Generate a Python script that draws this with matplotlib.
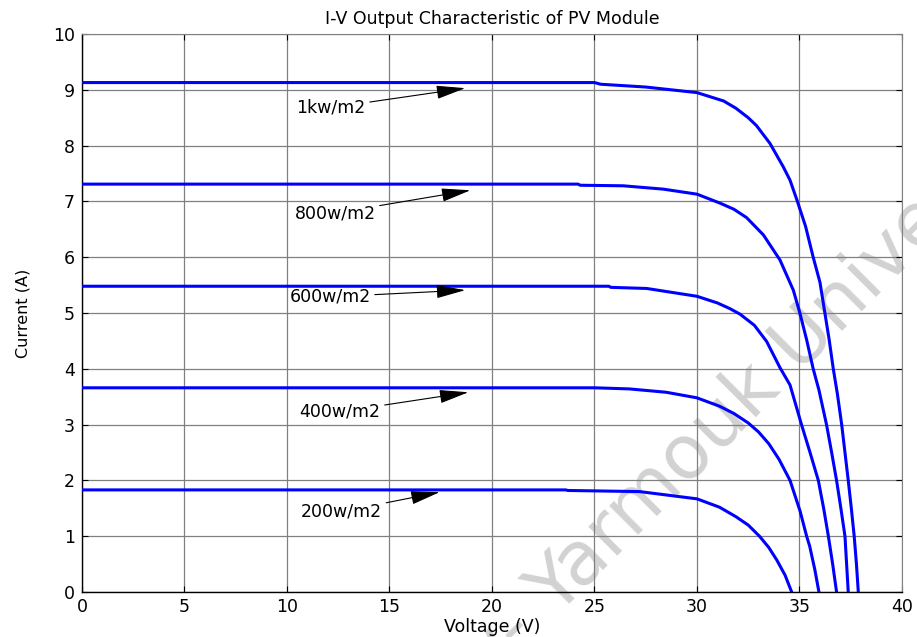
import matplotlib
matplotlib.use('Agg')
import matplotlib.pyplot as plt

# Measured I-V points for each irradiance level (voltage in V, current in A)
v_1000 = [0, 25.0, 25.3, 27.5, 30.0, 31.3, 31.9, 32.5, 32.9, 33.56, 34.21, 34.54, 34.9,
          35.3, 35.67, 36.0, 36.24, 36.45, 36.65, 36.85, 37.06, 37.22, 37.38, 37.53,
          37.67, 37.78, 37.87]
i_1000 = [9.13, 9.13, 9.10, 9.05, 8.95, 8.80, 8.67, 8.50, 8.36, 8.04, 7.62, 7.38, 7.00,
          6.55, 6.00, 5.55, 5.00, 4.52, 4.00, 3.55, 3.00, 2.50, 2.00, 1.50,
          1.00, 0.50, 0.00]

v_800 = [0, 24.2, 24.3, 26.4, 28.36, 30.0, 31.12, 31.8, 32.42, 33.24, 34.05, 34.7, 35.02,
         35.35, 35.67, 35.95, 36.32, 36.57, 36.81, 37.02, 37.22, 37.38]
i_800 = [7.31, 7.31, 7.29, 7.28, 7.22, 7.13, 6.97, 6.86, 6.71, 6.40, 5.95, 5.41, 5.00,
         4.52, 4.00, 3.62, 3.00, 2.50, 2.00, 1.50, 1.00, 0.00]

v_600 = [0, 25.7, 25.8, 27.55, 30.0, 31.0, 31.6, 32.1, 32.8, 33.4, 34.05, 34.54, 35.1,
         35.5, 35.92, 36.18, 36.41, 36.62, 36.81]
i_600 = [5.48, 5.48, 5.46, 5.44, 5.30, 5.18, 5.08, 4.98, 4.78, 4.49, 4.02, 3.71, 3.00,
         2.52, 2.00, 1.50, 1.00, 0.50, 0.00]

v_400 = [0, 25.0, 26.7, 28.5, 30.0, 31.1, 31.8, 32.5, 33.0, 33.5, 34.0, 34.54,
         35.03, 35.35, 35.5, 35.75, 35.95]
i_400 = [3.66, 3.66, 3.64, 3.58, 3.48, 3.33, 3.20, 3.03, 2.87, 2.66, 2.38, 2.00,
         1.45, 1.00, 0.82, 0.40, 0.00]

v_200 = [0, 23.6, 23.7, 27.2, 30.0, 31.1, 31.9, 32.5, 33.05, 33.5, 33.9, 34.3, 34.62]
i_200 = [1.83, 1.83, 1.82, 1.80, 1.67, 1.52, 1.35, 1.20, 1.00, 0.80, 0.57, 0.30, 0.00]

curves = [(v_1000, i_1000), (v_800, i_800), (v_600, i_600), (v_400, i_400), (v_200, i_200)]

# label text, text centre, arrow head position
labels = ['1kw/m2', '800w/m2', '600w/m2', '400w/m2', '200w/m2']
label_xy = [(12.15, 8.68), (12.34, 6.79), (12.1, 5.29), (12.59, 3.23), (12.66, 1.44)]
arrow_xy = [(18.7, 9.03), (18.95, 7.20), (18.7, 5.41), (18.85, 3.58), (17.45, 1.79)]

plt.rcParams['font.family'] = ['DejaVu Sans']

fig = plt.figure(figsize=(9.17, 6.37), dpi=100, facecolor='white')
ax = fig.add_axes([0.0894, 0.0706, 0.8942, 0.876])
ax.patch.set_alpha(0)

for v, i in curves:
    ax.plot(v, i, color='#0000ff', linewidth=2.2, zorder=3)

for text, (tx, ty), (hx, hy) in zip(labels, label_xy, arrow_xy):
    ax.annotate(text, xy=(hx, hy), xytext=(tx, ty), fontsize=12.5,
                ha='center', va='center', zorder=4,
                arrowprops=dict(arrowstyle='-|>,head_length=1.3,head_width=0.3',
                                color='black', lw=0.8, shrinkA=1, shrinkB=0,
                                mutation_scale=14))

ax.set_xlim(0, 40)
ax.set_ylim(0, 10)
ax.set_xticks(range(0, 41, 5))
ax.set_yticks(range(0, 11))
ax.grid(True, color='0.5', linewidth=0.9, linestyle='-', zorder=1)
ax.set_axisbelow(True)
ax.tick_params(direction='in', length=4, width=0.8, top=True, right=True,
               labelsize=12.5)
ax.tick_params(axis='x', pad=4)
ax.tick_params(axis='y', pad=5)
for side in ['top', 'right']:
    ax.spines[side].set_color('0.5')
for side in ['left', 'bottom']:
    ax.spines[side].set_linewidth(1.0)

ax.set_title('I-V Output Characteristic of PV Module', fontsize=12.5, pad=7)
ax.set_xlabel('Voltage (V)', fontsize=12.5, labelpad=2)
ax.set_ylabel('Current (A)', fontsize=11.5, labelpad=16)

# faint library watermark running diagonally behind the plot
wm = dict(fontsize=54, color='#d2d2d2', rotation=45, rotation_mode='anchor',
          va='baseline', zorder=-1)
fig.text(0.606, 0.03, 'Library- ', ha='right', **wm)
fig.text(0.606, 0.03, 'Yarmouk University', ha='left', **wm)

fig.savefig('out.png', dpi=100, facecolor='white')
